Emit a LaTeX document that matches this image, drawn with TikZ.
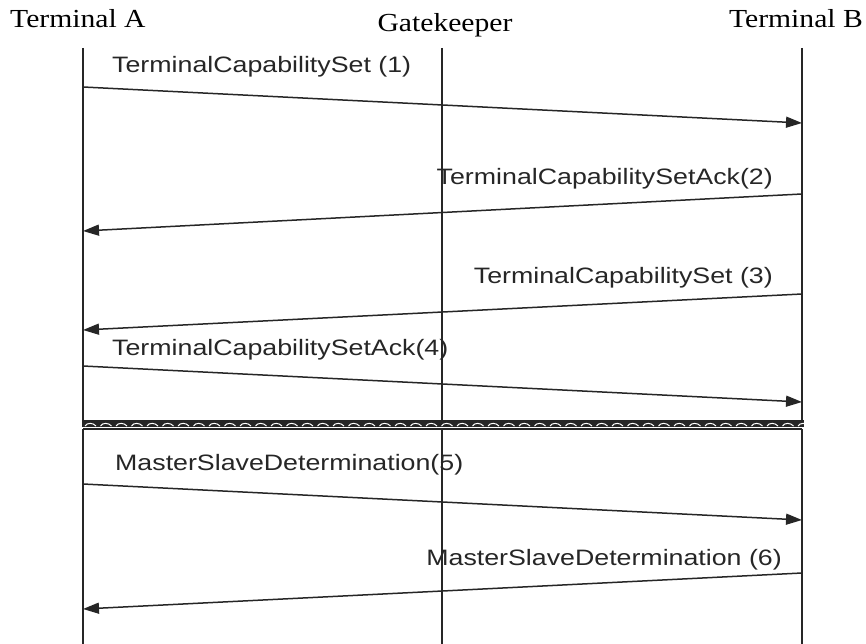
\documentclass[tikz,border=0pt]{standalone}
\usepackage{fontspec}
\usetikzlibrary{arrows.meta}
\newfontfamily\lblfont[FakeStretch=1.2]{Liberation Sans}
\newfontfamily\headfont[FakeStretch=1.14]{Liberation Serif}
\tikzset{
  lifeline/.style={line width=1.6pt, black!85},
  msg/.style={line width=1.5pt, black!85, -{Triangle[length=16pt,width=11pt]}},
  msglabel/.style={inner sep=0pt, font=\lblfont\fontsize{22.3}{24}\selectfont, text=black!85},
  head/.style={inner sep=0pt, font=\headfont\fontsize{26}{28}\selectfont}
}
\begin{document}
\begin{tikzpicture}[x=1pt,y=-1pt]
\useasboundingbox (0,0) rectangle (866,644);
% headers
\node[head, anchor=base west] (hA) at (10,28) {Terminal A};
\node[head, anchor=base] (hG) at (445,32) {Gatekeeper};
\node[head, anchor=base east] (hB) at (863,28) {Terminal B};
% lifelines
\coordinate (Atop) at (83,48);  \coordinate (Amid1) at (83,420);  \coordinate (Amid2) at (83,429);  \coordinate (Abot) at (83,644);
\coordinate (Gtop) at (442,48); \coordinate (Gmid1) at (442,420); \coordinate (Gmid2) at (442,429); \coordinate (Gbot) at (442,644);
\coordinate (Btop) at (802,48); \coordinate (Bmid1) at (802,420); \coordinate (Bmid2) at (802,429); \coordinate (Bbot) at (802,644);
\draw[lifeline] (Atop) -- (Amid1);
\draw[lifeline] (Amid2) -- (Abot);
\draw[lifeline] (Gtop) -- (Gmid1);
\draw[lifeline] (Gmid2) -- (Gbot);
\draw[lifeline] (Btop) -- (Bmid1);
\draw[lifeline] (Bmid2) -- (Bbot);
% break band
\fill[black!85] (82.2,419.5) rectangle (804,426.5);
\foreach \i in {0,...,46}{
  \draw[white, line width=1pt] ({85+15.5*\i},426) .. controls ({87+15.5*\i},422.5) and ({93+15.5*\i},422.5) .. ({96+15.5*\i},426);
}
\draw[lifeline] (Amid2) -- (Bmid2);
% message end points
\coordinate (a1) at (83,87);   \coordinate (b1) at (802,123);
\coordinate (b2) at (802,194); \coordinate (a2) at (83,231);
\coordinate (b3) at (802,294); \coordinate (a3) at (83,330);
\coordinate (a4) at (83,366);  \coordinate (b4) at (802,402);
\coordinate (a5) at (83,484);  \coordinate (b5) at (802,520);
\coordinate (b6) at (802,573); \coordinate (a6) at (83,609);
\draw[msg] (a1) -- (b1);
\draw[msg] (b2) -- (a2);
\draw[msg] (b3) -- (a3);
\draw[msg] (a4) -- (b4);
\draw[msg] (a5) -- (b5);
\draw[msg] (b6) -- (a6);
% labels
\node[msglabel, anchor=base west] (l1) at (112,73) {TerminalCapabilitySet (1)};
\node[msglabel, anchor=base east] (l2) at (773,185) {TerminalCapabilitySetAck(2)};
\node[msglabel, anchor=base east] (l3) at (773,283) {TerminalCapabilitySet (3)};
\node[msglabel, anchor=base west] (l4) at (112,355) {TerminalCapabilitySetAck(4)};
\node[msglabel, anchor=base west] (l5) at (115,470) {MasterSlaveDetermination(5)};
\node[msglabel, anchor=base east] (l6) at (782,565) {MasterSlaveDetermination (6)};
\end{tikzpicture}
\end{document}
